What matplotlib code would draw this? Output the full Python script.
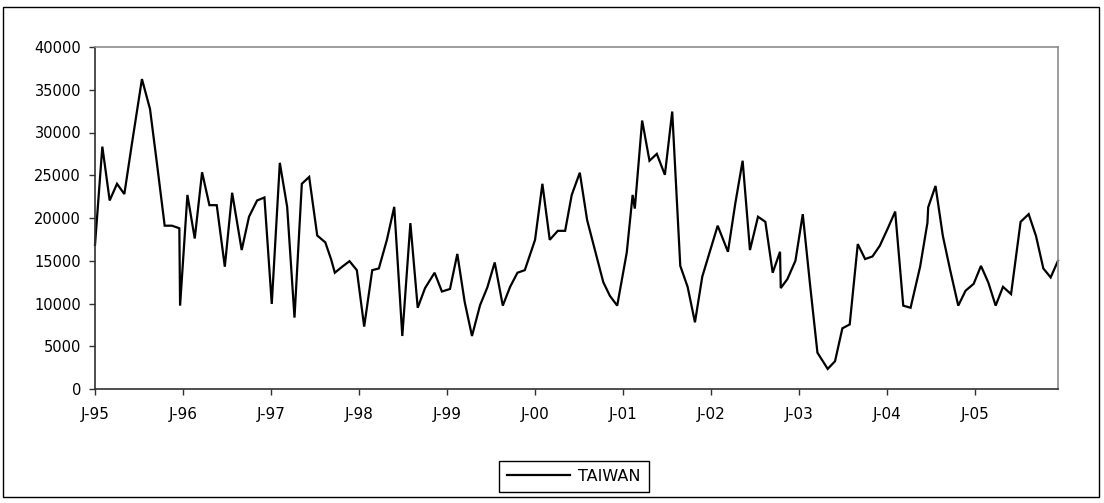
import matplotlib.pyplot as plt
from matplotlib.patches import Rectangle

# months elapsed since Jan 1995 for each observation, and the monthly value
months = [
    0.0, 1.0, 2.0, 3.0, 4.0, 5.0, 6.4, 7.5, 8.5, 9.5, 10.5, 11.5,
    11.6, 12.6, 13.6, 14.6, 15.6, 16.6, 17.7, 18.7, 20.0, 21.0, 22.1, 23.1,
    24.1, 25.2, 26.2, 27.2, 28.2, 29.2, 30.3, 31.4, 32.2, 32.7, 33.7, 34.7,
    35.7, 36.7, 37.8, 38.7, 39.8, 40.8, 41.9, 43.0, 44.0, 45.0, 46.3, 47.3,
    48.4, 49.4, 50.4, 51.4, 52.5, 53.5, 54.5, 55.6, 56.6, 57.6, 58.6, 60.0,
    61.0, 62.0, 63.1, 64.1, 65.0, 66.1, 67.1, 68.2, 69.3, 70.2, 71.2, 72.5,
    73.3, 73.6, 74.6, 75.6, 76.6, 77.7, 78.7, 79.8, 80.8, 81.8, 82.8, 83.9,
    84.9, 86.3, 87.3, 88.3, 89.3, 90.4, 91.4, 92.4, 93.4, 93.5, 94.4, 95.5,
    96.5, 97.5, 98.5, 99.9, 100.9, 101.9, 102.9, 104.0, 105.0, 106.0, 107.0, 108.1,
    109.1, 110.2, 111.2, 112.5, 113.5, 113.6, 114.6, 115.6, 116.6, 117.7, 118.7, 119.8,
    120.8, 121.8, 122.8, 123.8, 124.9, 126.2, 127.3, 128.3, 129.3, 130.3, 131.3,
]
taiwan = [
    16850, 28350, 22050, 24000, 22800, 28500, 36250, 32750, 26000, 19100, 19100, 18800,
    9750, 22700, 17600, 25350, 21500, 21500, 14300, 22950, 16250, 20150, 22050, 22400,
    9950, 26450, 21300, 8350, 24000, 24800, 17950, 17150, 15150, 13600, 14300, 14950,
    13900, 7300, 13900, 14100, 17450, 21300, 6200, 19400, 9500, 11800, 13600, 11400,
    11700, 15800, 10200, 6200, 9800, 11900, 14800, 9750, 11950, 13600, 13900, 17450,
    24000, 17450, 18500, 18500, 22700, 25300, 19750, 16150, 12500, 10900, 9750, 15950,
    22700, 21100, 31400, 26700, 27500, 25050, 32450, 14400, 11950, 7800, 13150, 16250,
    19100, 16050, 21700, 26700, 16250, 20150, 19550, 13600, 16050, 11800, 12850, 15000,
    20450, 12150, 4250, 2350, 3250, 7100, 7550, 16950, 15200, 15500, 16750, 18800,
    20750, 9750, 9500, 14300, 19450, 21250, 23750, 17900, 13900, 9750, 11500, 12300,
    14400, 12450, 9750, 11950, 11100, 19550, 20450, 17900, 14100, 13050, 15000,
]

year_ticks = [0, 12, 24, 36, 48, 60, 72, 84, 96, 108, 120]
year_labels = ['J-95', 'J-96', 'J-97', 'J-98', 'J-99', 'J-00',
               'J-01', 'J-02', 'J-03', 'J-04', 'J-05']
value_ticks = list(range(0, 40001, 5000))

plt.rcParams['font.family'] = ['DejaVu Sans']

W, H = 1104, 503
fig = plt.figure(figsize=(W / 100, H / 100), dpi=100)
ax = fig.add_axes([95 / W, 1 - 389 / H, 963 / W, 342 / H])

ax.plot(months, taiwan, color='black', linewidth=1.6, label='TAIWAN',
        solid_joinstyle='miter', clip_on=False)

ax.set_xlim(0, 131.3)
ax.set_ylim(0, 40000)
ax.set_xticks(year_ticks)
ax.set_xticklabels(year_labels)
ax.set_yticks(value_ticks)
ax.set_yticklabels([str(v) for v in value_ticks])

ax.tick_params(axis='both', direction='out', length=4, width=1, color='#303030',
               labelsize=10.5, labelcolor='black')
ax.tick_params(axis='y', pad=6)
ax.tick_params(axis='x', pad=9, labelsize=11)

for side in ('left', 'bottom'):
    ax.spines[side].set_color('#303030')
    ax.spines[side].set_linewidth(1.2)
for side in ('top', 'right'):
    ax.spines[side].set_color('#8c8c8c')
    ax.spines[side].set_linewidth(1.2)

# outer chart frame
fig.patches.append(Rectangle((3 / W, 1 - 497 / H), 1096 / W, 490 / H,
                             transform=fig.transFigure, fill=False,
                             edgecolor='black', linewidth=1))

leg = fig.legend(loc='center', bbox_to_anchor=(574 / W, 1 - 476.5 / H),
                 fontsize=11.5, handlelength=3.9, handletextpad=0.55,
                 borderpad=0.5, fancybox=False, framealpha=1,
                 edgecolor='black')
leg.get_frame().set_linewidth(1)

fig.savefig('out.png', dpi=100)
